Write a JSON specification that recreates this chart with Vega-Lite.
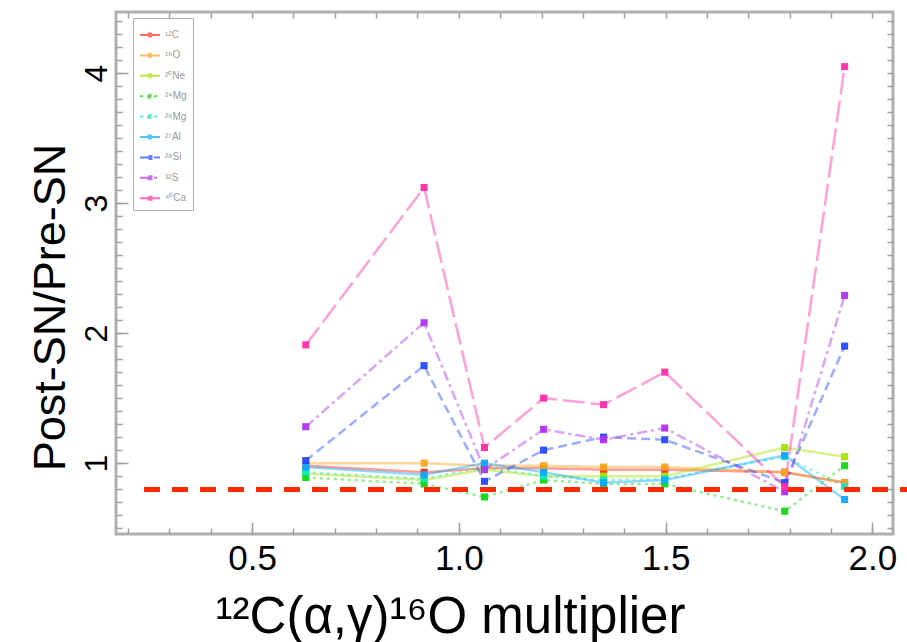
{
  "$schema": "https://vega.github.io/schema/vega-lite/v6.json",
  "width": 777,
  "height": 522,
  "autosize": {"type": "none"},
  "padding": {"left": 116, "top": 12, "right": 14, "bottom": 108},
  "background": "white",
  "config": {
    "view": {"stroke": "#b0b0b0", "strokeWidth": 3},
    "font": "Liberation Sans",
    "axis": {"grid": false, "domain": false, "tickColor": "#a0a0a0", "labelColor": "black", "titleColor": "black", "labelFont": "Liberation Sans", "titleFont": "Liberation Sans", "titleFontWeight": "normal"}
  },
  "datasets": {
    "main": [
      {"x": 0.63, "s": "¹²C", "y": 0.98}, {"x": 0.916, "s": "¹²C", "y": 0.93}, {"x": 1.062, "s": "¹²C", "y": 0.96}, {"x": 1.205, "s": "¹²C", "y": 0.96}, {"x": 1.35, "s": "¹²C", "y": 0.95}, {"x": 1.498, "s": "¹²C", "y": 0.95}, {"x": 1.788, "s": "¹²C", "y": 0.93}, {"x": 1.933, "s": "¹²C", "y": 0.85},
      {"x": 0.63, "s": "¹⁶O", "y": 1.0}, {"x": 0.916, "s": "¹⁶O", "y": 1.0}, {"x": 1.062, "s": "¹⁶O", "y": 0.98}, {"x": 1.205, "s": "¹⁶O", "y": 0.98}, {"x": 1.35, "s": "¹⁶O", "y": 0.97}, {"x": 1.498, "s": "¹⁶O", "y": 0.97}, {"x": 1.788, "s": "¹⁶O", "y": 0.93}, {"x": 1.933, "s": "¹⁶O", "y": 0.85},
      {"x": 0.63, "s": "²⁰Ne", "y": 0.92}, {"x": 0.916, "s": "²⁰Ne", "y": 0.87}, {"x": 1.062, "s": "²⁰Ne", "y": 0.95}, {"x": 1.205, "s": "²⁰Ne", "y": 0.9}, {"x": 1.35, "s": "²⁰Ne", "y": 0.9}, {"x": 1.498, "s": "²⁰Ne", "y": 0.9}, {"x": 1.788, "s": "²⁰Ne", "y": 1.12}, {"x": 1.933, "s": "²⁰Ne", "y": 1.05},
      {"x": 0.63, "s": "²⁴Mg", "y": 0.89}, {"x": 0.916, "s": "²⁴Mg", "y": 0.84}, {"x": 1.062, "s": "²⁴Mg", "y": 0.74}, {"x": 1.205, "s": "²⁴Mg", "y": 0.87}, {"x": 1.35, "s": "²⁴Mg", "y": 0.84}, {"x": 1.498, "s": "²⁴Mg", "y": 0.84}, {"x": 1.788, "s": "²⁴Mg", "y": 0.63}, {"x": 1.933, "s": "²⁴Mg", "y": 0.98},
      {"x": 0.63, "s": "²⁶Mg", "y": 0.93}, {"x": 0.916, "s": "²⁶Mg", "y": 0.88}, {"x": 1.062, "s": "²⁶Mg", "y": 0.97}, {"x": 1.205, "s": "²⁶Mg", "y": 0.9}, {"x": 1.35, "s": "²⁶Mg", "y": 0.87}, {"x": 1.498, "s": "²⁶Mg", "y": 0.88}, {"x": 1.788, "s": "²⁶Mg", "y": 1.05}, {"x": 1.933, "s": "²⁶Mg", "y": 0.82},
      {"x": 0.63, "s": "²⁷Al", "y": 0.97}, {"x": 0.916, "s": "²⁷Al", "y": 0.91}, {"x": 1.062, "s": "²⁷Al", "y": 1.0}, {"x": 1.205, "s": "²⁷Al", "y": 0.93}, {"x": 1.35, "s": "²⁷Al", "y": 0.85}, {"x": 1.498, "s": "²⁷Al", "y": 0.87}, {"x": 1.788, "s": "²⁷Al", "y": 1.06}, {"x": 1.933, "s": "²⁷Al", "y": 0.72},
      {"x": 0.63, "s": "²⁸Si", "y": 1.02}, {"x": 0.916, "s": "²⁸Si", "y": 1.75}, {"x": 1.062, "s": "²⁸Si", "y": 0.86}, {"x": 1.205, "s": "²⁸Si", "y": 1.1}, {"x": 1.35, "s": "²⁸Si", "y": 1.2}, {"x": 1.498, "s": "²⁸Si", "y": 1.18}, {"x": 1.788, "s": "²⁸Si", "y": 0.85}, {"x": 1.933, "s": "²⁸Si", "y": 1.9},
      {"x": 0.63, "s": "³²S", "y": 1.28}, {"x": 0.916, "s": "³²S", "y": 2.08}, {"x": 1.062, "s": "³²S", "y": 0.95}, {"x": 1.205, "s": "³²S", "y": 1.26}, {"x": 1.35, "s": "³²S", "y": 1.18}, {"x": 1.498, "s": "³²S", "y": 1.27}, {"x": 1.788, "s": "³²S", "y": 0.78}, {"x": 1.933, "s": "³²S", "y": 2.29},
      {"x": 0.63, "s": "⁴⁰Ca", "y": 1.91}, {"x": 0.916, "s": "⁴⁰Ca", "y": 3.12}, {"x": 1.062, "s": "⁴⁰Ca", "y": 1.12}, {"x": 1.205, "s": "⁴⁰Ca", "y": 1.5}, {"x": 1.35, "s": "⁴⁰Ca", "y": 1.45}, {"x": 1.498, "s": "⁴⁰Ca", "y": 1.7}, {"x": 1.788, "s": "⁴⁰Ca", "y": 0.82}, {"x": 1.933, "s": "⁴⁰Ca", "y": 4.05}
    ]
  },
  "data": {"name": "main"},
  "layer": [
    {
      "mark": {"type": "line", "strokeWidth": 2.5, "opacity": 0.45},
      "encoding": {
        "x": {"field": "x", "type": "quantitative", "scale": {"domain": [0.171, 2.05], "nice": false, "zero": false},
          "axis": {"orient": "bottom", "values": [0.5, 1.0, 1.5, 2.0], "format": ".1f", "tickSize": -12, "tickWidth": 1.5, "labelPadding": 19, "labelFontSize": 35, "labelFlush": false, "title": "¹²C(α,γ)¹⁶O multiplier", "titleFontSize": 51, "titleX": 334, "titleY": 83, "titleAlign": "center", "titleBaseline": "middle", "titleAnchor": "start"}},
        "y": {"field": "y", "type": "quantitative", "scale": {"domain": [0.455, 4.47], "nice": false, "zero": false},
          "axis": {"orient": "left", "values": [1, 2, 3, 4], "tickSize": -12, "tickWidth": 1.5, "labelPadding": 22, "labelFontSize": 32, "labelAngle": -90, "labelAlign": "center", "labelBaseline": "alphabetic", "labelFlush": false, "title": "Post-SN/Pre-SN", "titleFontSize": 45, "titleX": -66, "titleY": 295, "titleAlign": "center", "titleBaseline": "middle", "titleAnchor": "start"}},
        "color": {"field": "s", "type": "nominal",
          "scale": {"domain": ["¹²C", "¹⁶O", "²⁰Ne", "²⁴Mg", "²⁶Mg", "²⁷Al", "²⁸Si", "³²S", "⁴⁰Ca"],
            "range": ["#ff2a1a", "#ffa420", "#a8e000", "#10d810", "#10e8c0", "#10a8ff", "#2448ff", "#b030f0", "#ff2ca8"]},
          "legend": {"title": null, "orient": "none", "legendX": 17, "legendY": 6, "fillColor": "white", "strokeColor": "#b0b0b0", "padding": 6, "symbolType": "M-1,0H1M-0.15,-0.15H0.15V0.15H-0.15Z", "symbolSize": 400, "symbolStrokeWidth": 2, "symbolOpacity": 0.7, "labelFontSize": 10, "labelColor": "#999999", "rowPadding": 3.4, "labelOffset": 4}},
        "strokeDash": {"field": "s", "type": "nominal", "legend": null,
          "scale": {"domain": ["¹²C", "¹⁶O", "²⁰Ne", "²⁴Mg", "²⁶Mg", "²⁷Al", "²⁸Si", "³²S", "⁴⁰Ca"],
            "range": [[1, 0], [1, 0], [1, 0], [3, 4], [3, 4], [1, 0], [9, 5], [10, 4, 3, 4], [22, 6]]}}
      }
    },
    {
      "mark": {"type": "point", "shape": "square", "filled": true, "size": 50, "opacity": 0.95},
      "encoding": {
        "x": {"field": "x", "type": "quantitative", "axis": {"orient": "top", "values": [0.2,0.3,0.4,0.5,0.6,0.7,0.8,0.9,1.0,1.1,1.2,1.3,1.4,1.5,1.6,1.7,1.8,1.9,2.0], "labels": false, "tickSize": -6, "tickWidth": 1.5, "title": null}},
        "y": {"field": "y", "type": "quantitative", "axis": {"orient": "right", "values": [0.5,0.6,0.7,0.8,0.9,1.0,1.1,1.2,1.3,1.4,1.5,1.6,1.7,1.8,1.9,2.0,2.1,2.2,2.3,2.4,2.5,2.6,2.7,2.8,2.9,3.0,3.1,3.2,3.3,3.4,3.5,3.6,3.7,3.8,3.9,4.0,4.1,4.2,4.3,4.4], "labels": false, "tickSize": -6, "tickWidth": 1.5, "title": null}},
        "color": {"field": "s", "type": "nominal", "legend": null}
      }
    },
    {
      "mark": {"type": "rule", "color": "#ff2a00", "strokeWidth": 4, "strokeDash": [15, 13], "clip": false},
      "encoding": {
        "x": {"datum": 0.24, "type": "quantitative", "axis": {"orient": "bottom", "values": [0.2,0.3,0.4,0.5,0.6,0.7,0.8,0.9,1.0,1.1,1.2,1.3,1.4,1.5,1.6,1.7,1.8,1.9,2.0], "labels": false, "tickSize": -6, "tickWidth": 1.5, "title": null}},
        "x2": {"datum": 2.09},
        "y": {"datum": 0.8, "type": "quantitative", "axis": {"orient": "left", "values": [0.5,0.6,0.7,0.8,0.9,1.0,1.1,1.2,1.3,1.4,1.5,1.6,1.7,1.8,1.9,2.0,2.1,2.2,2.3,2.4,2.5,2.6,2.7,2.8,2.9,3.0,3.1,3.2,3.3,3.4,3.5,3.6,3.7,3.8,3.9,4.0,4.1,4.2,4.3,4.4], "labels": false, "tickSize": -6, "tickWidth": 1.5, "title": null}}
      }
    }
  ],
  "resolve": {"axis": {"x": "independent", "y": "independent"}}
}
